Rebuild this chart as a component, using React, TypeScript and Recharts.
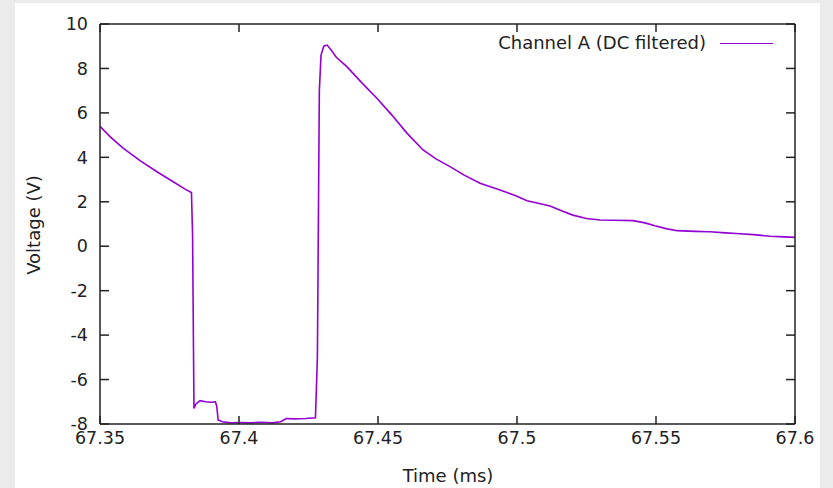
import React from "react";
import { LineChart, Line, XAxis, YAxis } from "recharts";

const timesMs = [
  67.35, 67.3536, 67.3583, 67.3644, 67.3705, 67.3763, 67.3806, 67.3829, 67.3833,
  67.3838, 67.3845, 67.386, 67.388, 67.39, 67.3915, 67.392, 67.3925, 67.394, 67.397,
  67.4, 67.404, 67.408, 67.412, 67.415, 67.417, 67.42, 67.424, 67.4275, 67.4282,
  67.4289, 67.4295, 67.4305, 67.4317, 67.433, 67.435, 67.4388, 67.4442, 67.4496,
  67.455, 67.4604, 67.4662, 67.471, 67.4759, 67.481, 67.4867, 67.4939, 67.5,
  67.5036, 67.508, 67.5119, 67.516, 67.5201, 67.525, 67.5299, 67.535, 67.5417,
  67.546, 67.5496, 67.554, 67.5576, 67.564, 67.5694, 67.575, 67.5802, 67.585,
  67.591, 67.596, 67.6,
];

const channelA = [
  5.4, 4.93, 4.41, 3.85, 3.35, 2.9, 2.57, 2.42, 0.5,
  -7.3, -7.1, -6.95, -7.0, -7.02, -7.0, -7.2, -7.82, -7.9, -7.95,
  -7.93, -7.95, -7.92, -7.95, -7.9, -7.75, -7.77, -7.75, -7.72, -5.0,
  7.0, 8.6, 9.0, 9.05, 8.85, 8.5, 8.08, 7.35, 6.66,
  5.9, 5.09, 4.33, 3.92, 3.58, 3.2, 2.83, 2.53, 2.25,
  2.05, 1.92, 1.81, 1.6, 1.4, 1.25, 1.18, 1.17, 1.15,
  1.05, 0.92, 0.78, 0.7, 0.67, 0.65, 0.6, 0.56, 0.52,
  0.45, 0.42, 0.4,
];

const xTicks = [67.35, 67.4, 67.45, 67.5, 67.55, 67.6];
const yTicks = [-8, -6, -4, -2, 0, 2, 4, 6, 8, 10];
const seriesName = "Channel A (DC filtered)";
const xTitle = "Time (ms)";
const yTitle = "Voltage (V)";

const data = timesMs.map((t, i) => ({ t, v: channelA[i] }));

const FONT = "'DejaVu Sans', sans-serif";
const TEXT = "#222";
const LINE = "#9400d3";
const TICK_FS = 17.5;
const XM = 8; // bottom tick margin
const YM = 12; // left tick margin
const TL = 8; // tick length

const BottomTick = (p: any) => {
  const ay = p.y - XM;
  return (
    <g>
      <line x1={p.x} x2={p.x} y1={ay} y2={ay - TL} stroke={TEXT} strokeWidth={1.5} />
      <text x={p.x} y={p.y} dy="0.71em" textAnchor="middle" fontSize={TICK_FS} fontFamily={FONT} fill={TEXT}>
        {String(p.payload.value)}
      </text>
    </g>
  );
};

const TopTick = (p: any) => {
  const ay = p.y;
  return <line x1={p.x} x2={p.x} y1={ay} y2={ay + TL} stroke={TEXT} strokeWidth={1.5} />;
};

const LeftTick = (p: any) => {
  const ax = p.x + YM;
  return (
    <g>
      <line x1={ax} x2={ax + TL + 1} y1={p.y} y2={p.y} stroke={TEXT} strokeWidth={1.5} />
      <text x={p.x} y={p.y} dy="0.355em" textAnchor="end" fontSize={TICK_FS} fontFamily={FONT} fill={TEXT}>
        {String(p.payload.value)}
      </text>
    </g>
  );
};

const RightTick = (p: any) => {
  const ax = p.x;
  return <line x1={ax} x2={ax - TL - 1} y1={p.y} y2={p.y} stroke={TEXT} strokeWidth={1.5} />;
};

export default function App() {
  return (
    <div style={{ position: "absolute", left: 0, top: 0, width: 833, height: 488, background: "#ebebeb", overflow: "hidden" }}>
      <div style={{ position: "absolute", left: 15, top: 3, width: 805, height: 485, background: "#fff" }} />
      <div style={{ position: "absolute", left: 0, top: 0 }}>
        <LineChart width={833} height={488} data={data} margin={{ top: 23, right: 37, bottom: 34, left: 40 }}>
          <XAxis
            xAxisId="b"
            dataKey="t"
            type="number"
            domain={[67.35, 67.6]}
            ticks={xTicks}
            allowDataOverflow
            orientation="bottom"
            height={30}
            tickSize={0}
            tickLine={false}
            tickMargin={XM}
            tick={<BottomTick />}
            stroke={TEXT}
            strokeWidth={1.5}
            interval={0}
          />
          <XAxis
            xAxisId="t"
            dataKey="t"
            type="number"
            domain={[67.35, 67.6]}
            ticks={xTicks}
            allowDataOverflow
            orientation="top"
            height={1}
            tickSize={0}
            tickLine={false}
            tickMargin={0}
            tick={<TopTick />}
            stroke={TEXT}
            strokeWidth={1.5}
            interval={0}
          />
          <YAxis
            yAxisId="l"
            type="number"
            domain={[-8, 10]}
            ticks={yTicks}
            allowDataOverflow
            orientation="left"
            width={60}
            tickSize={0}
            tickLine={false}
            tickMargin={YM}
            tick={<LeftTick />}
            stroke={TEXT}
            strokeWidth={1.5}
            interval={0}
          />
          <YAxis
            yAxisId="r"
            type="number"
            domain={[-8, 10]}
            ticks={yTicks}
            allowDataOverflow
            orientation="right"
            width={1}
            tickSize={0}
            tickLine={false}
            tickMargin={0}
            tick={<RightTick />}
            stroke={TEXT}
            strokeWidth={1.5}
            interval={0}
          />
          <Line
            xAxisId="b"
            yAxisId="l"
            dataKey="v"
            name={seriesName}
            type="linear"
            stroke={LINE}
            strokeWidth={1.6}
            dot={false}
            isAnimationActive={false}
          />
        </LineChart>
      </div>
      <div
        style={{
          position: "absolute",
          left: 300,
          width: 406,
          top: 33,
          textAlign: "right",
          fontFamily: FONT,
          fontSize: 18,
          lineHeight: "20px",
          color: TEXT,
          whiteSpace: "nowrap",
        }}
      >
        {seriesName}
      </div>
      <div style={{ position: "absolute", left: 720, top: 43, width: 53, height: 0, borderTop: `1.5px solid ${LINE}` }} />
      <div
        style={{
          position: "absolute",
          left: 248,
          width: 400,
          top: 466,
          textAlign: "center",
          fontFamily: FONT,
          fontSize: 18,
          lineHeight: "20px",
          color: TEXT,
          whiteSpace: "nowrap",
        }}
      >
        {xTitle}
      </div>
      <div
        style={{
          position: "absolute",
          left: 34 - 100,
          top: 225 - 10,
          width: 200,
          textAlign: "center",
          fontFamily: FONT,
          fontSize: 18,
          lineHeight: "20px",
          color: TEXT,
          whiteSpace: "nowrap",
          transform: "rotate(-90deg)",
          transformOrigin: "100px 10px",
        }}
      >
        {yTitle}
      </div>
    </div>
  );
}
